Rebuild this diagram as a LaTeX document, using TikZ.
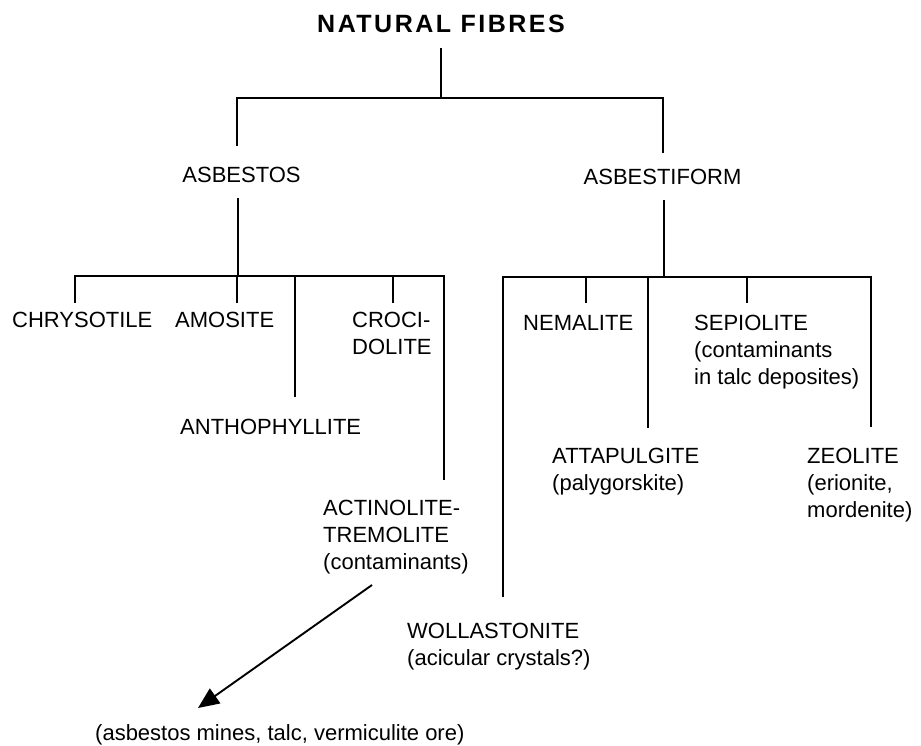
\documentclass[tikz,border=0pt]{standalone}
\usepackage{fontspec}
\setmainfont{Liberation Sans}
\newfontfamily\titlefont{Liberation Sans}[LetterSpace=10]
\usetikzlibrary{arrows.meta}
\tikzset{
  tree/.style={line width=1.9pt},
  arr/.style={line width=1.9pt, -{Triangle[length=21pt,width=18pt]}},
  lbl/.style={anchor=north west, inner sep=0pt, align=left, font=\fontsize{22}{27}\selectfont},
  headlbl/.style={anchor=base, inner sep=0pt, font=\fontsize{22}{27}\selectfont},
  titlelbl/.style={anchor=base, inner sep=0pt, font=\titlefont\bfseries\fontsize{25}{30}\selectfont},
}
\begin{document}
\begin{tikzpicture}[x=1pt,y=-1pt]
\fill[white] (0,0) rectangle (921,746);
\useasboundingbox (0,0) rectangle (921,746);

% texts
\node[titlelbl] (nf) at (441,33) {NATURAL FIBRES};
\node[headlbl] (asb) at (241.5,183) {ASBESTOS};
\node[headlbl] (asf) at (662.5,185) {ASBESTIFORM};

\node[lbl] (chr) at (12,312) {CHRYSOTILE};
\node[lbl] (amo) at (175,312) {AMOSITE};
\node[lbl] (ant) at (180,419) {ANTHOPHYLLITE};
\node[lbl] (cro) at (352,312) {CROCI-\\DOLITE};
\node[lbl] (act) at (323,500) {ACTINOLITE-\\TREMOLITE\\(contaminants)};
\node[lbl] (nem) at (523,315) {NEMALITE};
\node[lbl] (sep) at (694,315) {SEPIOLITE\\(contaminants\\in talc deposites)};
\node[lbl] (att) at (552,448) {ATTAPULGITE\\(palygorskite)};
\node[lbl] (zeo) at (807,448) {ZEOLITE\\(erionite,\\mordenite)};
\node[lbl] (wol) at (407,623) {WOLLASTONITE\\(acicular crystals?)};
\node[lbl] (ore) at (95,724) {(asbestos mines, talc, vermiculite ore)};

% junction coordinates
\coordinate (nfb) at (441,48);
\coordinate (j1l) at (237,98);
\coordinate (j1r) at (663,98);
\coordinate (asbt) at (237,146);
\coordinate (asft) at (663,153);
\coordinate (asbb) at (238,198);
\coordinate (asfb) at (664,200);
\coordinate (j2l) at (75,276);
\coordinate (j2r) at (444,276);
\coordinate (j3l) at (503,277);
\coordinate (j3r) at (871,277);
\coordinate (chrt) at (75,303);
\coordinate (amot) at (237,303);
\coordinate (antt) at (295,397);
\coordinate (crot) at (393,303);
\coordinate (actt) at (444,480);
\coordinate (nemt) at (586,303);
\coordinate (attt) at (648,428);
\coordinate (sept) at (747,303);
\coordinate (zeot) at (871,427);
\coordinate (wolt) at (503,597);
\coordinate (arrs) at (372,585);
\coordinate (arre) at (198,708);

% tree
\draw[tree] (nfb) -- (nfb |- j1l);
\draw[tree] (asbt) -- (j1l) -- (j1r) -- (asft);
\draw[tree] (asbb) -- (asbb |- j2l);
\draw[tree] (chrt) -- (j2l) -- (j2r) -- (actt);
\draw[tree] (amot) -- (amot |- j2l);
\draw[tree] (antt) -- (antt |- j2l);
\draw[tree] (crot) -- (crot |- j2l);
\draw[tree] (asfb) -- (asfb |- j3l);
\draw[tree] (wolt) -- (j3l) -- (j3r) -- (zeot);
\draw[tree] (nemt) -- (nemt |- j3l);
\draw[tree] (attt) -- (attt |- j3l);
\draw[tree] (sept) -- (sept |- j3l);
\draw[arr] (arrs) -- (arre);
\end{tikzpicture}
\end{document}
